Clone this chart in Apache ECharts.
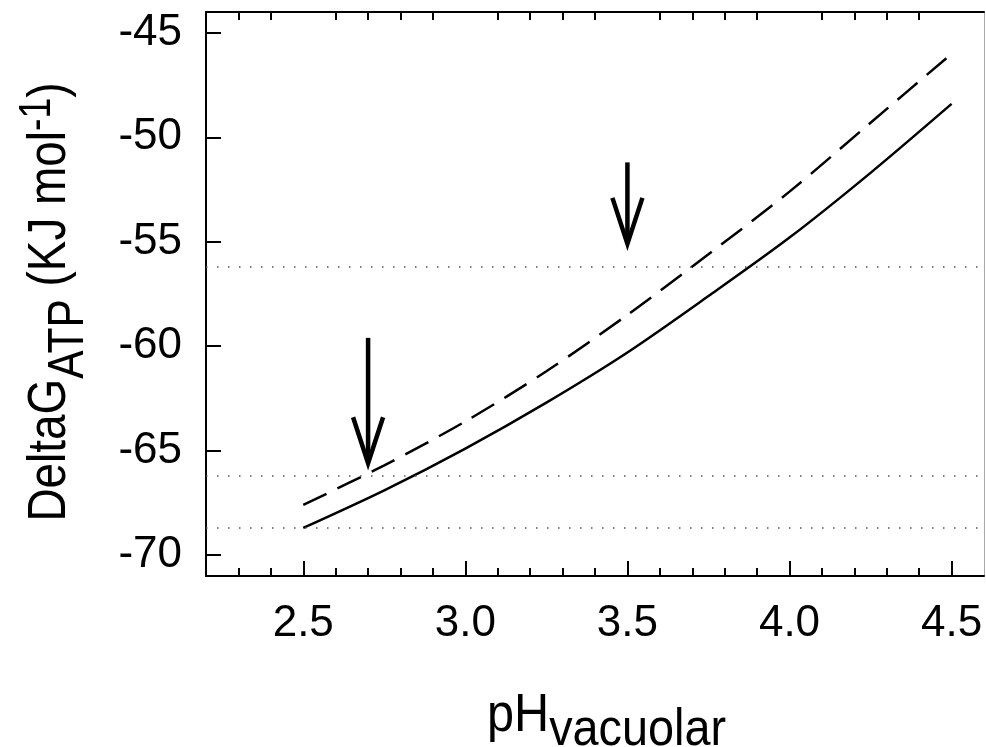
<!DOCTYPE html>
<html>
<head>
<meta charset="utf-8">
<title>DeltaG ATP vs vacuolar pH</title>
<script src="https://cdn.jsdelivr.net/npm/echarts@6/dist/echarts.min.js"></script>
<style>
  html, body { margin: 0; padding: 0; background: #fff; }
  #chart { width: 986px; height: 747px; }
</style>
</head>
<body>
<div id="chart"></div>
<script>
// ============ data ============
const phValues = [2.5, 2.75, 3.0, 3.25, 3.5, 3.75, 4.0, 4.25, 4.5]
const solidValues = [-68.7, -66.9, -64.9, -62.7, -60.3, -57.6, -54.8, -51.7, -48.4]
const dashedValues = [-67.6, -65.7, -63.6, -61.2, -58.5, -55.6, -52.6, -49.3, -46.0]

// horizontal dotted reference levels
const refLevels = [-56.2, -66.2, -68.7]

// arrows: x position, start (top) and tip value
const arrowX = [2.7, 3.5]
const arrowTop = [-59.6, -51.2]
const arrowTip = [-65.6, -55.1]

const xMajorTicks = [2.5, 3.0, 3.5, 4.0, 4.5]
const xMinorTicks = [2.3, 2.4, 2.6, 2.7, 2.8, 2.9, 3.1, 3.2, 3.3, 3.4, 3.6, 3.7, 3.8, 3.9, 4.1, 4.2, 4.3, 4.4]
const yTicks = [-70, -65, -60, -55, -50, -45]

// ============ options ============
const FONT = "'Liberation Sans', Arial, sans-serif"
const AXIS_LINE = { show: true, lineStyle: { color: '#000', width: 2 } }

const chart = echarts.init(document.getElementById('chart'))

const toPairs = (xs, ys) => xs.map((x, i) => [x, ys[i]])

chart.setOption({
  animation: false,
  backgroundColor: '#fff',
  grid: { left: 206, top: 12, width: 778, height: 564, containLabel: false },
  xAxis: [
    {
      type: 'value',
      position: 'bottom',
      min: 2.2,
      max: 4.6,
      axisLine: AXIS_LINE,
      axisTick: { show: true, inside: true, length: 15, customValues: xMajorTicks, lineStyle: { color: '#000', width: 2 } },
      axisLabel: {
        customValues: xMajorTicks,
        color: '#000',
        fontFamily: FONT,
        fontSize: 44,
        margin: 26,
        formatter: (v) => v.toFixed(1)
      },
      splitLine: { show: false }
    },
    {
      // minor ticks along the bottom
      type: 'value',
      position: 'bottom',
      min: 2.2,
      max: 4.6,
      axisLine: { show: false },
      axisTick: { show: true, inside: true, length: 8, customValues: xMinorTicks, lineStyle: { color: '#000', width: 2 } },
      axisLabel: { show: false },
      splitLine: { show: false }
    },
    {
      // top border with minor ticks only
      type: 'value',
      position: 'top',
      min: 2.2,
      max: 4.6,
      axisLine: AXIS_LINE,
      axisTick: { show: true, inside: true, length: 8, customValues: xMinorTicks, lineStyle: { color: '#000', width: 2 } },
      axisLabel: { show: false },
      splitLine: { show: false }
    }
  ],
  yAxis: [
    {
      type: 'value',
      position: 'left',
      min: -71,
      max: -44,
      axisLine: AXIS_LINE,
      axisTick: { show: true, inside: true, length: 15, customValues: yTicks, lineStyle: { color: '#000', width: 2 } },
      axisLabel: {
        customValues: yTicks,
        color: '#000',
        fontFamily: FONT,
        fontSize: 44,
        margin: 24
      },
      splitLine: { show: false }
    },
    {
      type: 'value',
      position: 'right',
      min: -71,
      max: -44,
      axisLine: { show: true, lineStyle: { color: '#aaa', width: 1 } },
      axisTick: { show: false },
      axisLabel: { show: false },
      splitLine: { show: false }
    }
  ],
  series: [
    {
      name: 'solid',
      type: 'line',
      data: toPairs(phValues, solidValues),
      smooth: 0.3,
      showSymbol: false,
      lineStyle: { color: '#000', width: 2.5 },
      markLine: {
        silent: true,
        symbol: 'none',
        label: { show: false },
        lineStyle: { color: '#555', width: 1.5, type: [1.5, 9.5] },
        data: refLevels.map((v) => ({ yAxis: v }))
      }
    },
    {
      name: 'dashed',
      type: 'line',
      data: toPairs(phValues, dashedValues),
      smooth: 0.3,
      showSymbol: false,
      lineStyle: { color: '#000', width: 2.5, type: [26, 12] }
    },
    {
      name: 'arrows',
      type: 'custom',
      data: arrowX.map((x, i) => [x, arrowTop[i], arrowTip[i]]),
      renderItem: (params, api) => {
        const top = api.coord([api.value(0), api.value(1)])
        const tip = api.coord([api.value(0), api.value(2)])
        const headLen = 46
        const headHalf = 15
        const style = { stroke: '#000', lineWidth: 4.5, fill: null, lineCap: 'butt', lineJoin: 'miter' }
        return {
          type: 'group',
          children: [
            { type: 'line', shape: { x1: top[0], y1: top[1], x2: tip[0], y2: tip[1] - 4 }, style },
            {
              type: 'polyline',
              shape: { points: [[tip[0] - headHalf, tip[1] - headLen], [tip[0], tip[1]], [tip[0] + headHalf, tip[1] - headLen]] },
              style
            }
          ]
        }
      }
    }
  ],
  graphic: [
    {
      // x axis title: pH with subscript (squeezed, the original font is narrow)
      type: 'text',
      x: 487,
      y: 716,
      scaleX: 0.9,
      style: {
        text: '{a|pH}{b|vacuolar}',
        align: 'left',
        verticalAlign: 'middle',
        fill: '#000',
        rich: {
          a: { fontFamily: FONT, fontSize: 54, fill: '#000' },
          b: { fontFamily: FONT, fontSize: 52, fill: '#000', padding: [30, 0, 0, 0] }
        }
      }
    },
    {
      // y axis title, rotated
      type: 'text',
      x: 50,
      y: 302,
      rotation: Math.PI / 2,
      scaleX: 0.85,
      style: {
        text: '{a|DeltaG}{b|ATP}{a| (KJ mol}{c|-1}{a|)}',
        align: 'center',
        verticalAlign: 'middle',
        fill: '#000',
        rich: {
          a: { fontFamily: FONT, fontSize: 54, fill: '#000' },
          b: { fontFamily: FONT, fontSize: 50, fill: '#000', padding: [38, 0, 0, 0] },
          c: { fontFamily: FONT, fontSize: 44, fill: '#000', padding: [0, 0, 24, 0] }
        }
      }
    }
  ]
})
</script>
</body>
</html>
